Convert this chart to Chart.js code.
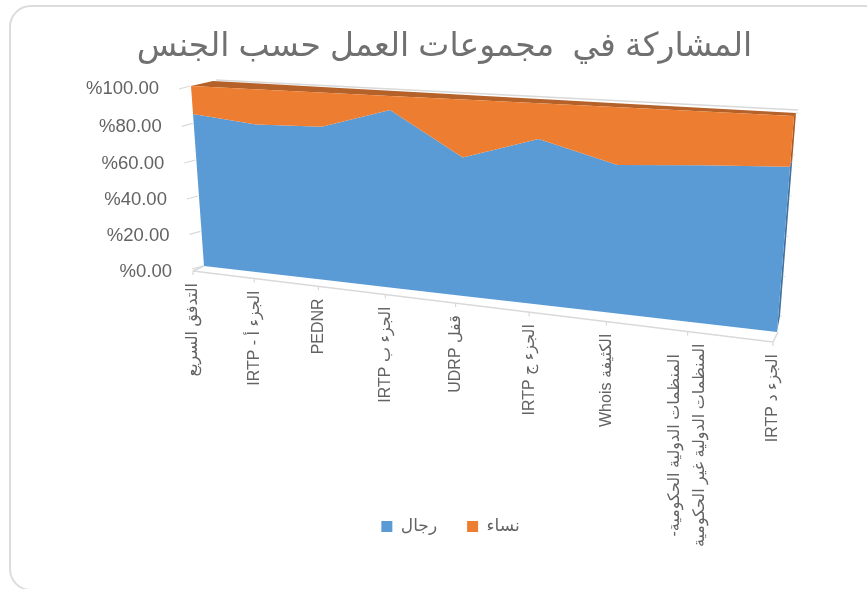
<!DOCTYPE html>
<html>
<head>
<meta charset="utf-8">
<style>
  html, body { margin: 0; padding: 0; background: #fff; overflow: hidden; }
  #card { position: absolute; left: 9px; top: 5px; width: 900px; height: 586px;
          border: 2px solid #dcdcdc; border-radius: 22px; box-sizing: border-box; }
  #wrap { position: absolute; left: 0; top: 0; width: 867px; height: 589px; }
  #chart { filter: blur(0.3px); }
</style>
</head>
<body>
<div id="card"></div>
<div id="wrap"><canvas id="chart" width="867" height="589"></canvas></div>
<script src="https://cdn.jsdelivr.net/npm/chart.js@4"></script>
<script>
const chartTitle = "المشاركة في  مجموعات العمل حسب الجنس";
const categories = [
  "التدفق السريع",
  "الجزء أ - IRTP",
  "PEDNR",
  "الجزء ب IRTP",
  "قفل UDRP",
  "الجزء ج IRTP",
  "الكثيفة Whois",
  ["المنظمات الدولية الحكومية-", "المنظمات الدولية غير الحكومية"],
  "الجزء د IRTP"
];
const menValues = [85, 81.5, 82.5, 93, 71.5, 83, 73, 75.5, 77.5];
const womenValues = [15, 18.5, 17.5, 7, 28.5, 17, 27, 24.5, 22.5];

const textColor = "#636363";
const lineColor = "#d9d9d9";
const fontFamily = '"Liberation Sans", "DejaVu Sans", sans-serif';

// corners of the front and back plane: bottom-left, bottom-right, top-right, top-left
const frontQuad = [[204, 266], [777, 332], [794, 116], [191, 86]];
const backQuad = [[216, 260], [780, 316], [796, 113], [213, 81]];

function makeHomography(q) {
  const [x0, y0] = q[0], [x1, y1] = q[1], [x2, y2] = q[2], [x3, y3] = q[3];
  const sx = x0 - x1 + x2 - x3, sy = y0 - y1 + y2 - y3;
  const dx1 = x1 - x2, dx2 = x3 - x2, dy1 = y1 - y2, dy2 = y3 - y2;
  const den = dx1 * dy2 - dx2 * dy1;
  const g = (sx * dy2 - dx2 * sy) / den;
  const h = (dx1 * sy - sx * dy1) / den;
  const a = x1 - x0 + g * x1, b = x3 - x0 + h * x3;
  const d = y1 - y0 + g * y1, e = y3 - y0 + h * y3;
  return (u, v) => {
    const w = g * u + h * v + 1;
    return { x: (a * u + b * v + x0) / w, y: (d * u + e * v + y0) / w };
  };
}
const toFront = makeHomography(frontQuad);
const toBack = makeHomography(backQuad);

function unit(chart, px, py) {
  const area = chart.chartArea;
  return [(px - area.left) / (area.right - area.left), (area.bottom - py) / (area.bottom - area.top)];
}

function fillPoly(ctx, pts, color) {
  ctx.beginPath();
  pts.forEach((p, i) => (i ? ctx.lineTo(p.x, p.y) : ctx.moveTo(p.x, p.y)));
  ctx.closePath();
  ctx.fillStyle = color;
  ctx.fill();
}

function strokeLine(ctx, x0, y0, x1, y1, color, width) {
  ctx.beginPath();
  ctx.moveTo(x0, y0);
  ctx.lineTo(x1, y1);
  ctx.strokeStyle = color;
  ctx.lineWidth = width;
  ctx.stroke();
}

const perspective = {
  id: "perspective",
  // legend sits a bit right of the title in the reference
  afterLayout(chart) {
    chart.legend.left += 6;
    chart.legend.right += 6;
  },
  // move the scale positions on to the slanted 3d planes
  afterDatasetsUpdate(chart) {
    chart.data.datasets.forEach((ds, i) => {
      const meta = chart.getDatasetMeta(i);
      meta.front = [];
      meta.back = [];
      meta.data.forEach(pt => {
        const [u, v] = unit(chart, pt.x, pt.y);
        const f = toFront(u, v);
        meta.front.push(f);
        meta.back.push(toBack(u, v));
        pt.x = f.x;
        pt.y = f.y;
      });
    });
  },
  beforeDatasetsDraw(chart) {
    const ctx = chart.ctx;
    const n = categories.length - 1;
    const base = categories.map((c, i) => toFront(i / n, 0));
    const baseBack = categories.map((c, i) => toBack(i / n, 0));
    const men = chart.getDatasetMeta(0);
    const women = chart.getDatasetMeta(1);

    ctx.save();
    // back wall edge
    strokeLine(ctx, 216, 80, 798, 110, lineColor, 1.5);

    // top face and right side faces
    fillPoly(ctx, women.front.concat(women.back.slice().reverse()), "#b5622a");
    fillPoly(ctx, [women.front[n], women.back[n], men.back[n], men.front[n]], "#a85b28");
    fillPoly(ctx, [men.front[n], men.back[n], baseBack[n], base[n]], "#41719c");

    // front faces
    fillPoly(ctx, base.concat(men.front.slice().reverse()), chart.data.datasets[0].backgroundColor);
    fillPoly(ctx, men.front.concat(women.front.slice().reverse()), chart.data.datasets[1].backgroundColor);
    ctx.restore();
  },
  afterDraw(chart) {
    const ctx = chart.ctx;
    const xScale = chart.scales.x;
    const yScale = chart.scales.y;
    const n = categories.length - 1;
    ctx.save();
    ctx.fillStyle = textColor;

    // value axis: stubs and labels follow the left edge
    ctx.font = "18.5px " + fontFamily;
    ctx.textAlign = "right";
    ctx.textBaseline = "middle";
    yScale.ticks.forEach(t => {
      const py = yScale.getPixelForValue(t.value);
      const v = unit(chart, xScale.left, py)[1];
      const p = toFront(0, v);
      strokeLine(ctx, p.x - 12, p.y + 3, p.x - 1, p.y, lineColor, 1.2);
      ctx.fillText(t.label, p.x - 32, p.y + 2.5 + (1 - v) * 3);
      const r = toBack(1, v);
      strokeLine(ctx, r.x, r.y, r.x + 2, r.y, lineColor, 1);
    });

    // floor edge, it sits a little in front of the blue face
    const tickPos = i => {
      const p = toFront(i / n, 0);
      const f = (p.x - frontQuad[0][0]) / (frontQuad[1][0] - frontQuad[0][0]);
      return { x: p.x - 11 + 7 * f, y: p.y + 5 + 5 * f };
    };
    const first = tickPos(0), last = tickPos(n);
    strokeLine(ctx, first.x, first.y, last.x, last.y, lineColor, 1.5);
    strokeLine(ctx, first.x, first.y, frontQuad[0][0], frontQuad[0][1], lineColor, 1.5);
    strokeLine(ctx, last.x, last.y, frontQuad[1][0] + 1, frontQuad[1][1], lineColor, 1.5);

    // category labels, rotated, drawn from the scale's own ticks
    ctx.direction = "rtl";
    ctx.font = "16px " + fontFamily;
    xScale.ticks.forEach((t, i) => {
      const p = tickPos(i);
      strokeLine(ctx, p.x, p.y, p.x, p.y + 4, lineColor, 1.2);
      const lines = Array.isArray(t.label) ? t.label : [t.label];
      const widths = lines.map(s => ctx.measureText(s).width);
      const maxW = Math.max(...widths);
      ctx.fillStyle = textColor;
      lines.forEach((s, k) => {
        ctx.save();
        ctx.translate(p.x + (k - (lines.length - 1) / 2) * 25, p.y + 12 + (maxW - widths[k]) / 2);
        ctx.rotate(-Math.PI / 2);
        ctx.textAlign = "right";
        ctx.textBaseline = "middle";
        ctx.fillText(s, 0, 0);
        ctx.restore();
      });
    });
    ctx.restore();
  }
};

new Chart(document.getElementById("chart"), {
  type: "line",
  data: {
    labels: categories,
    datasets: [
      { label: "رجال", data: menValues, backgroundColor: "#5b9bd5", borderColor: "#5b9bd5", fill: false, borderWidth: 0, pointRadius: 0 },
      { label: "نساء", data: womenValues, backgroundColor: "#ed7d31", borderColor: "#ed7d31", fill: false, borderWidth: 0, pointRadius: 0 }
    ]
  },
  plugins: [perspective],
  options: {
    responsive: false,
    animation: false,
    layout: { padding: { left: 22, right: 0, top: 27, bottom: 44 } },
    scales: {
      x: { display: false, offset: false, ticks: { autoSkip: false } },
      y: {
        display: false, stacked: true, min: 0, max: 100,
        ticks: { stepSize: 20, callback: v => "%" + v.toFixed(2) }
      }
    },
    plugins: {
      tooltip: { enabled: false },
      title: {
        display: true, text: chartTitle, color: "#707070",
        font: { family: fontFamily, size: 33, weight: "normal" },
        padding: { top: 0, bottom: 10 }
      },
      legend: {
        position: "bottom",
        labels: {
          color: textColor, boxWidth: 11, boxHeight: 11, padding: 30,
          font: { family: fontFamily, size: 17 }
        }
      }
    }
  }
});
</script>
</body>
</html>
